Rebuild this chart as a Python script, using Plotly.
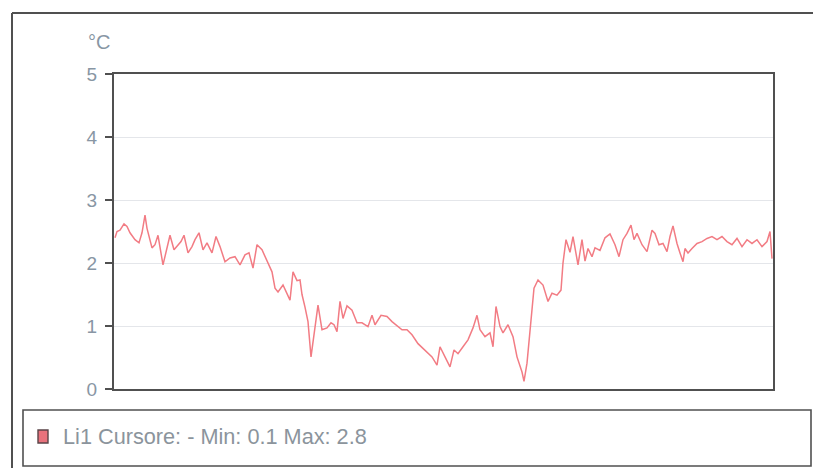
import plotly.graph_objects as go

# sample position (arbitrary time units) and temperature in °C
t = [1, 3, 6, 10, 13, 16, 21, 25, 28, 31, 33, 38, 41, 44, 49, 53, 56, 60, 63, 67, 70, 74, 78, 81, 85, 89,
     93, 98, 102, 106, 111, 116, 121, 126, 131, 135, 139, 143, 148, 153, 158, 161, 164, 169, 172, 176,
     179, 183, 186, 188, 191, 194, 197, 200, 204, 208, 213, 217, 220, 223, 226, 229, 233, 238, 243, 248,
     254, 258, 261, 267, 273, 278, 284, 288, 293, 298, 304, 311, 318, 323, 326, 331, 336, 340, 344, 349,
     354, 359, 363, 366, 371, 376, 379, 382, 386, 389, 394, 399, 403, 408, 410, 413, 417, 420, 424, 429,
     434, 438, 443, 447, 449, 452, 456, 459, 464, 468, 471, 474, 478, 481, 486, 491, 496, 501, 505, 509,
     513, 517, 520, 523, 528, 533, 538, 541, 545, 549, 553, 556, 559, 563, 566, 569, 571, 574, 578, 583,
     588, 593, 598, 603, 608, 613, 618, 623, 628, 633, 638, 643, 648, 653, 656, 658]
temp = [2.40, 2.50, 2.52, 2.62, 2.58, 2.48, 2.37, 2.32, 2.48, 2.76, 2.55, 2.24, 2.29, 2.44, 1.97, 2.26,
        2.44, 2.21, 2.26, 2.34, 2.44, 2.16, 2.26, 2.37, 2.48, 2.21, 2.32, 2.16, 2.42, 2.26, 2.02, 2.08,
        2.10, 1.97, 2.13, 2.16, 1.92, 2.29, 2.21, 2.02, 1.86, 1.60, 1.54, 1.65, 1.54, 1.41, 1.86, 1.72,
        1.73, 1.50, 1.30, 1.07, 0.51, 0.86, 1.33, 0.94, 0.97, 1.05, 1.02, 0.91, 1.39, 1.12, 1.32, 1.25,
        1.05, 1.05, 0.99, 1.17, 1.02, 1.17, 1.15, 1.07, 0.99, 0.94, 0.94, 0.86, 0.72, 0.62, 0.51, 0.38,
        0.67, 0.51, 0.35, 0.62, 0.56, 0.67, 0.78, 0.97, 1.17, 0.94, 0.83, 0.89, 0.67, 1.31, 0.99, 0.89,
        1.02, 0.83, 0.51, 0.27, 0.12, 0.41, 1.15, 1.60, 1.73, 1.65, 1.39, 1.52, 1.49, 1.57, 2.00, 2.37,
        2.17, 2.42, 1.97, 2.37, 2.03, 2.23, 2.10, 2.24, 2.20, 2.40, 2.46, 2.29, 2.10, 2.37, 2.47, 2.60,
        2.37, 2.47, 2.29, 2.18, 2.52, 2.47, 2.29, 2.31, 2.18, 2.42, 2.59, 2.31, 2.16, 2.02, 2.23, 2.16,
        2.23, 2.31, 2.34, 2.39, 2.42, 2.37, 2.42, 2.34, 2.29, 2.39, 2.26, 2.37, 2.31, 2.37, 2.26, 2.34,
        2.50, 2.07]
y_ticks = [0, 1, 2, 3, 4, 5]
unit_label = "°C"
legend_text = "Li1 Cursore: - Min: 0.1 Max: 2.8"

W, H = 813, 468
L, R, T, B = 114, 773, 74, 389  # plot area in pixels


def px(x):
    return (x - L) / (R - L)


def py(y):
    return (B - y) / (B - T)


LINE_COLOR = "#f27c84"
FRAME = "#505050"

fig = go.Figure()
fig.add_trace(go.Scatter(x=t, y=temp, mode="lines",
                         line=dict(color=LINE_COLOR, width=1.5),
                         name="Li1 Cursore", showlegend=False))

shapes = [
    # outer frame (top and left)
    dict(type="line", xref="paper", yref="paper", x0=px(12), y0=py(13), x1=px(815), y1=py(13),
         line=dict(color=FRAME, width=2)),
    dict(type="line", xref="paper", yref="paper", x0=px(12), y0=py(13), x1=px(12), y1=py(470),
         line=dict(color=FRAME, width=2)),
    # legend box
    dict(type="rect", xref="paper", yref="paper", x0=px(23), y0=py(410), x1=px(811), y1=py(466),
         line=dict(color=FRAME, width=1.6), fillcolor="rgba(0,0,0,0)"),
    # legend swatch
    dict(type="rect", xref="paper", yref="paper", x0=px(38), y0=py(430), x1=px(48), y1=py(443),
         line=dict(color="#5a4448", width=1.4), fillcolor="#e8727c"),
]

annotations = [
    dict(text=unit_label, xref="paper", yref="paper", x=px(86), y=py(42), xanchor="left",
         yanchor="middle", showarrow=False, font=dict(family="Liberation Sans, Arial", size=20,
                                                      color="#8896a4")),
    dict(text=legend_text, xref="paper", yref="paper", x=px(61), y=py(437), xanchor="left",
         yanchor="middle", showarrow=False, font=dict(family="Liberation Sans, Arial", size=21.7,
                                                      color="#8b949c")),
]

fig.update_layout(
    width=W, height=H,
    margin=dict(l=L, r=W - R, t=T, b=H - B, pad=0),
    paper_bgcolor="white", plot_bgcolor="white",
    shapes=shapes, annotations=annotations,
    xaxis=dict(range=[0, 659], showticklabels=False, ticks="", showgrid=False, zeroline=False,
               showline=True, mirror=True, linecolor=FRAME, linewidth=2),
    yaxis=dict(range=[0, 5], tickvals=y_ticks, ticks="outside", ticklen=7, tickwidth=2,
               tickcolor=FRAME, showgrid=True, gridcolor="#e4e6ea", gridwidth=1.2, zeroline=False,
               showline=True, mirror=True, linecolor=FRAME, linewidth=2,
               tickfont=dict(family="Liberation Sans, Arial", size=19, color="#8896a4"),
               ticklabelstandoff=4),
    showlegend=False,
)

fig.write_html("out.html")
